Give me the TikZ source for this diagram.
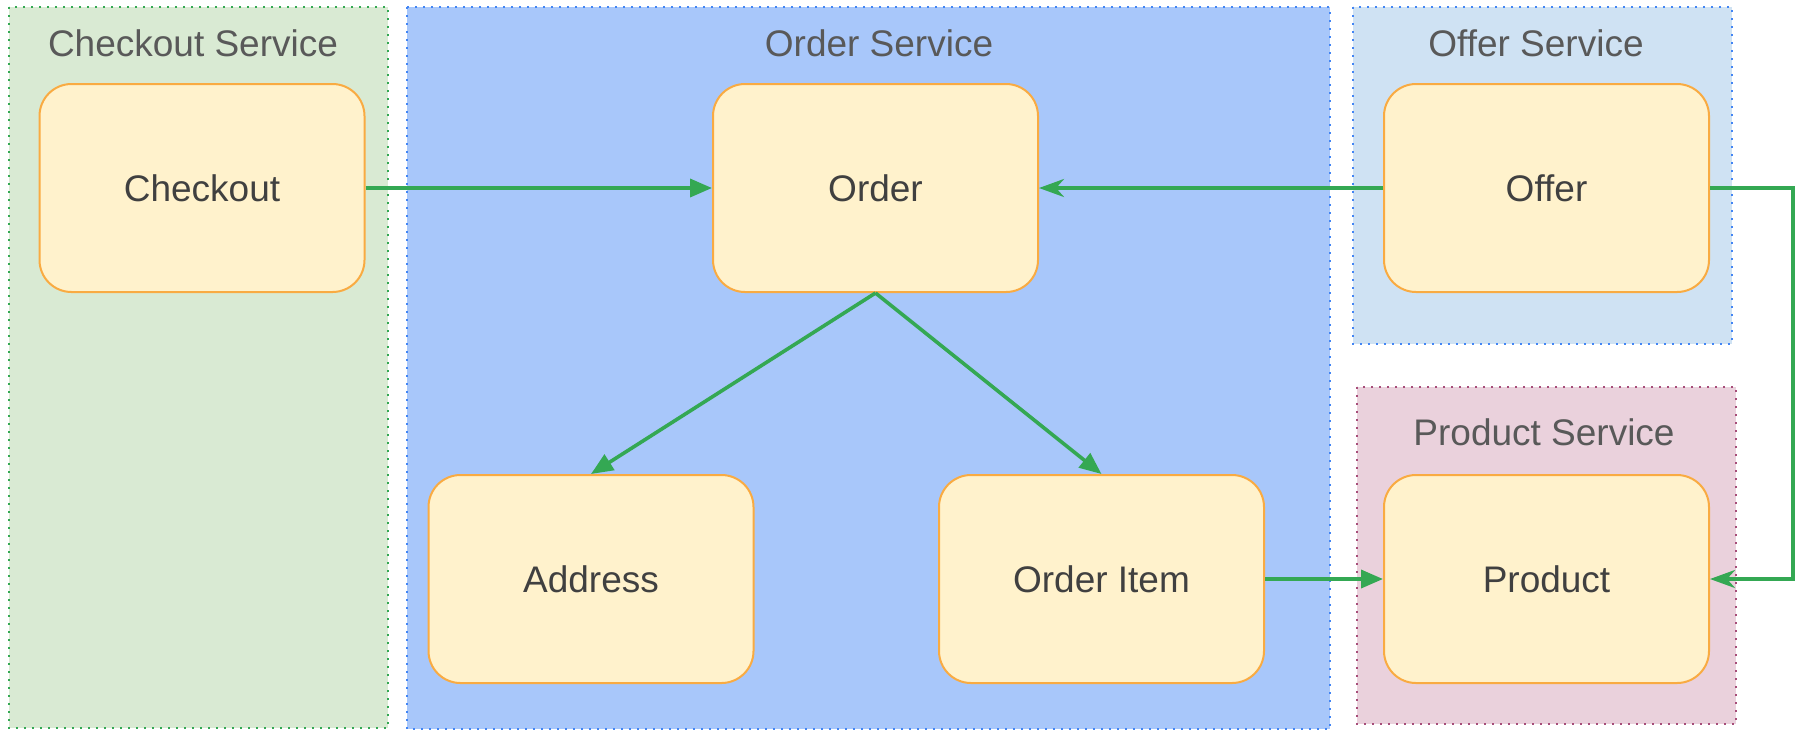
\documentclass[tikz,border=0pt]{standalone}
\usepackage{fontspec}
\setmainfont{Liberation Sans}
\usetikzlibrary{arrows.meta}
\definecolor{ckfill}{HTML}{D9EAD3}
\definecolor{ckline}{HTML}{34A853}
\definecolor{orfill}{HTML}{A8C7FA}
\definecolor{bluline}{HTML}{4285F4}
\definecolor{offill}{HTML}{CFE2F3}
\definecolor{prfill}{HTML}{EAD1DC}
\definecolor{prline}{HTML}{A64D79}
\definecolor{entfill}{HTML}{FFF2CC}
\definecolor{entline}{HTML}{F9AB42}
\definecolor{linkcol}{HTML}{34A853}
\definecolor{titlecol}{HTML}{595959}
\definecolor{textcol}{HTML}{404040}
\tikzset{
  svcbox/.style={line width=0.9pt, dash pattern=on 0.9pt off 3.1pt},
  entity/.style={draw=entline, fill=entfill, line width=1pt, rounded corners=16pt,
    minimum width=162.5pt, minimum height=104pt, inner sep=0pt,
    text=textcol, font=\fontsize{18.5}{22}\selectfont},
  svctitle/.style={text=titlecol, font=\fontsize{18.5}{22}\selectfont, anchor=base, inner sep=0pt},
  link/.style={draw=linkcol, line width=1.8pt},
  solidtip/.style={-{Triangle[length=11pt,width=9pt]}},
  notchtip/.style={-{Stealth[length=12.5pt,width=9pt,inset=4pt]}}
}
\begin{document}
\begin{tikzpicture}[x=0.5pt,y=-0.5pt]
\useasboundingbox (0,0) rectangle (1798,730);

% service areas
\filldraw[svcbox, fill=ckfill, draw=ckline] (9,7) rectangle (388,728);
\filldraw[svcbox, fill=orfill, draw=bluline] (407,7) rectangle (1330,729);
\filldraw[svcbox, fill=offill, draw=bluline] (1353,7) rectangle (1732,344);
\filldraw[svcbox, fill=prfill, draw=prline] (1357,387) rectangle (1736,724);

% service titles
\node[svctitle] (tck) at (193,56) {Checkout Service};
\node[svctitle] (tor) at (879,56) {Order Service};
\node[svctitle] (tof) at (1536,56) {Offer Service};
\node[svctitle] (tpr) at (1544,445) {Product Service};

% entities
\node[entity] (checkout) at (202,188) {Checkout};
\node[entity] (order) at (875.5,188) {Order};
\node[entity] (offer) at (1546.5,188) {Offer};
\node[entity] (address) at (591,579) {Address};
\node[entity] (item) at (1101.5,579) {Order Item};
\node[entity] (product) at (1546.5,579) {Product};

% relations
\coordinate (bendtop) at (1793,188);
\coordinate (bendbot) at (1793,579);
\draw[link, solidtip] (checkout.east) -- (order.west);
\draw[link, notchtip] (offer.west) -- (order.east);
\draw[link, solidtip] (order.south) -- (address.north);
\draw[link, solidtip] (order.south) -- (item.north);
\draw[link, solidtip] (item.east) -- (product.west);
\draw[link, notchtip] (offer.east) -- (bendtop) -- (bendbot) -- (product.east);
\end{tikzpicture}
\end{document}
